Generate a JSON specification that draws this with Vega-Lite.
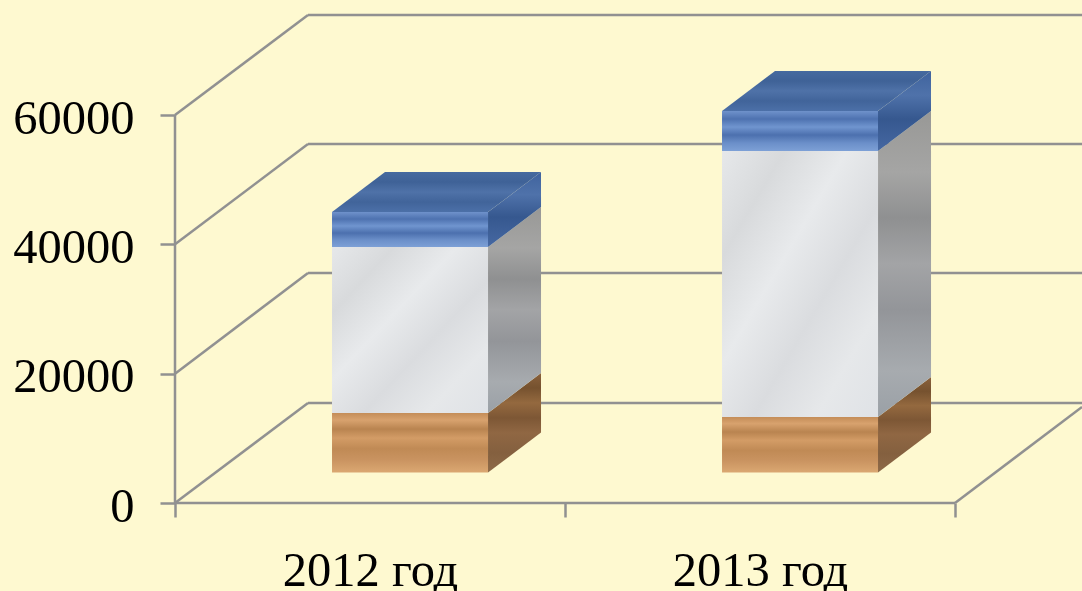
{
"$schema":"https://vega.github.io/schema/vega-lite/v6.json",
"width":907,"height":488,
"autosize":{"type":"none"},
"padding":{"left":175,"top":15,"right":0,"bottom":88},
"background":"#fef9d0",
"view":{"stroke":null},
"config":{"font":"Liberation Serif"},
"datasets":{
"walls":[
{"line":"back0","x":0.341,"low":15464},{"line":"back0","x":2.3256,"low":15464},
{"line":"back20000","x":0.341,"low":35567},{"line":"back20000","x":2.3256,"low":35567},
{"line":"back40000","x":0.341,"low":55516},{"line":"back40000","x":2.3256,"low":55516},
{"line":"back60000","x":0.341,"low":75464},{"line":"back60000","x":2.3256,"low":75464},
{"line":"side0","x":0,"low":0},{"line":"side0","x":0.341,"low":15464},
{"line":"side20000","x":0,"low":20000},{"line":"side20000","x":0.341,"low":35567},
{"line":"side40000","x":0,"low":40000},{"line":"side40000","x":0.341,"low":55516},
{"line":"side60000","x":0,"low":60000},{"line":"side60000","x":0.341,"low":75464},
{"line":"floorFront","x":0,"low":0},{"line":"floorFront","x":2,"low":0},
{"line":"floorRight","x":2,"low":0},{"line":"floorRight","x":2.3256,"low":14845}
],
"wallAxis":[{"x":0,"low":0,"high":60000}],
"front":[
{"year":"2012 год","part":"wood","x":0.4026,"x2":0.8026,"low":4700,"high":13918},
{"year":"2012 год","part":"marble","x":0.4026,"x2":0.8026,"low":13918,"high":39588},
{"year":"2012 год","part":"cloth","x":0.4026,"x2":0.8026,"low":39588,"high":45000},
{"year":"2013 год","part":"wood","x":1.4026,"x2":1.8026,"low":4700,"high":13299},
{"year":"2013 год","part":"marble","x":1.4026,"x2":1.8026,"low":13299,"high":54433},
{"year":"2013 год","part":"cloth","x":1.4026,"x2":1.8026,"low":54433,"high":60619}
],
"side":[
{"year":"2012 год","part":"wood","x":0.8026,"low":4700,"high":13918},{"year":"2012 год","part":"wood","x":0.9385,"low":10886,"high":20104},
{"year":"2012 год","part":"marble","x":0.8026,"low":13918,"high":39588},{"year":"2012 год","part":"marble","x":0.9385,"low":20104,"high":45774},
{"year":"2012 год","part":"cloth","x":0.8026,"low":39588,"high":45000},{"year":"2012 год","part":"cloth","x":0.9385,"low":45774,"high":51186},
{"year":"2013 год","part":"wood","x":1.8026,"low":4700,"high":13299},{"year":"2013 год","part":"wood","x":1.9385,"low":10886,"high":19485},
{"year":"2013 год","part":"marble","x":1.8026,"low":13299,"high":54433},{"year":"2013 год","part":"marble","x":1.9385,"low":19485,"high":60619},
{"year":"2013 год","part":"cloth","x":1.8026,"low":54433,"high":60619},{"year":"2013 год","part":"cloth","x":1.9385,"low":60619,"high":66805}
],
"top":[
{"year":"2012 год","x":0.4026,"low":45000,"high":45000},{"year":"2012 год","x":0.5385,"low":45000,"high":51186},{"year":"2012 год","x":0.8026,"low":45000,"high":51186},{"year":"2012 год","x":0.9385,"low":51186,"high":51186},
{"year":"2013 год","x":1.4026,"low":60619,"high":60619},{"year":"2013 год","x":1.5385,"low":60619,"high":66805},{"year":"2013 год","x":1.8026,"low":60619,"high":66805},{"year":"2013 год","x":1.9385,"low":66805,"high":66805}
]
},
"encoding":{
"x":{"field":"x","type":"quantitative","title":null,"scale":{"domain":[0,2.3256],"nice":false,"zero":false},
"axis":{"values":[0,0.5,1,1.5,2],"grid":false,"domain":false,"tickColor":"#919191","tickWidth":2.5,"tickSize":14,
"tickOpacity":{"condition":{"test":"datum.value == 0.5 || datum.value == 1.5","value":0},"value":1},
"labelExpr":"datum.value == 0.5 ? '2012 год' : datum.value == 1.5 ? '2013 год' : ''",
"labelFont":"Liberation Serif","labelFontSize":48.5,"labelColor":"#000000","labelPadding":30,"labelAngle":0,"labelOverlap":false,"labelBound":false,"labelFlush":false}},
"y":{"field":"low","type":"quantitative","title":null,"scale":{"domain":[0,75464],"nice":false,"zero":false},
"axis":{"values":[0,20000,40000,60000],"grid":false,"domain":false,"tickColor":"#919191","tickWidth":2.5,"tickSize":15,
"labelFont":"Liberation Serif","labelFontSize":48.5,"labelColor":"#000000","labelPadding":26,"labelOffset":3,"labelOverlap":false,"labelBound":false,"labelFlush":false,"format":"d"}}
},
"layer":[
{"data":{"name":"walls"},"mark":{"type":"line","color":"#919191","strokeWidth":2.5,"clip":false},"encoding":{"detail":{"field":"line"}}},
{"data":{"name":"wallAxis"},"mark":{"type":"rule","color":"#919191","strokeWidth":2.5},"encoding":{"y2":{"field":"high"}}},
{"data":{"name":"side"},"transform":[{"filter":"datum.part == 'wood'"}],"mark":{"type":"area","fill":{"gradient":"linear","x1":0,"y1":0,"x2":0,"y2":1,"stops":[{"offset":0,"color":"#8a613c"},{"offset":0.15,"color":"#76522f"},{"offset":0.3,"color":"#94693f"},{"offset":0.45,"color":"#7d5735"},{"offset":0.6,"color":"#906743"},{"offset":0.8,"color":"#84603f"},{"offset":1,"color":"#8e6a48"}]}},"encoding":{"y2":{"field":"high"},"detail":{"field":"year"}}},
{"data":{"name":"side"},"transform":[{"filter":"datum.part == 'marble'"}],"mark":{"type":"area","fill":{"gradient":"linear","x1":0,"y1":0,"x2":0,"y2":1,"stops":[{"offset":0,"color":"#989896"},{"offset":0.2,"color":"#a5a5a4"},{"offset":0.35,"color":"#8f9091"},{"offset":0.5,"color":"#a3a4a6"},{"offset":0.65,"color":"#939599"},{"offset":0.85,"color":"#a7abaf"},{"offset":1,"color":"#9aa0a6"}]}},"encoding":{"y2":{"field":"high"},"detail":{"field":"year"}}},
{"data":{"name":"side"},"transform":[{"filter":"datum.part == 'cloth'"}],"mark":{"type":"area","fill":{"gradient":"linear","x1":0,"y1":0,"x2":0,"y2":1,"stops":[{"offset":0,"color":"#3f639e"},{"offset":0.3,"color":"#4f72aa"},{"offset":0.6,"color":"#36588f"},{"offset":1,"color":"#4668a2"}]}},"encoding":{"y2":{"field":"high"},"detail":{"field":"year"}}},
{"data":{"name":"top"},"mark":{"type":"area","fill":{"gradient":"linear","x1":0,"y1":0,"x2":0,"y2":1,"stops":[{"offset":0,"color":"#466a9f"},{"offset":0.25,"color":"#3f6297"},{"offset":0.5,"color":"#4f72a8"},{"offset":0.75,"color":"#41649a"},{"offset":1,"color":"#4c70a8"}]}},"encoding":{"y2":{"field":"high"},"detail":{"field":"year"}}},
{"data":{"name":"front"},"transform":[{"filter":"datum.part == 'wood'"}],"mark":{"type":"rect","fill":{"gradient":"linear","x1":0,"y1":0,"x2":0,"y2":1,"stops":[{"offset":0,"color":"#c48d58"},{"offset":0.12,"color":"#d8a26e"},{"offset":0.27,"color":"#b98450"},{"offset":0.42,"color":"#d39c66"},{"offset":0.6,"color":"#c08a55"},{"offset":0.78,"color":"#c99360"},{"offset":1,"color":"#dba872"}]}},"encoding":{"x2":{"field":"x2"},"y2":{"field":"high"}}},
{"data":{"name":"front"},"transform":[{"filter":"datum.part == 'marble'"}],"mark":{"type":"rect","fill":{"gradient":"linear","x1":0,"y1":0,"x2":1,"y2":1,"stops":[{"offset":0,"color":"#e6e8ea"},{"offset":0.2,"color":"#d8dadc"},{"offset":0.4,"color":"#e8eaec"},{"offset":0.6,"color":"#dadcdf"},{"offset":0.8,"color":"#e6e8ea"},{"offset":1,"color":"#dfe2e6"}]}},"encoding":{"x2":{"field":"x2"},"y2":{"field":"high"}}},
{"data":{"name":"front"},"transform":[{"filter":"datum.part == 'cloth'"}],"mark":{"type":"rect","fill":{"gradient":"linear","x1":0,"y1":0,"x2":0,"y2":1,"stops":[{"offset":0,"color":"#6f92cb"},{"offset":0.2,"color":"#4e72b0"},{"offset":0.4,"color":"#7095cf"},{"offset":0.6,"color":"#4c70ae"},{"offset":0.8,"color":"#6b8fc9"},{"offset":1,"color":"#7da0d6"}]}},"encoding":{"x2":{"field":"x2"},"y2":{"field":"high"}}}
]
}
